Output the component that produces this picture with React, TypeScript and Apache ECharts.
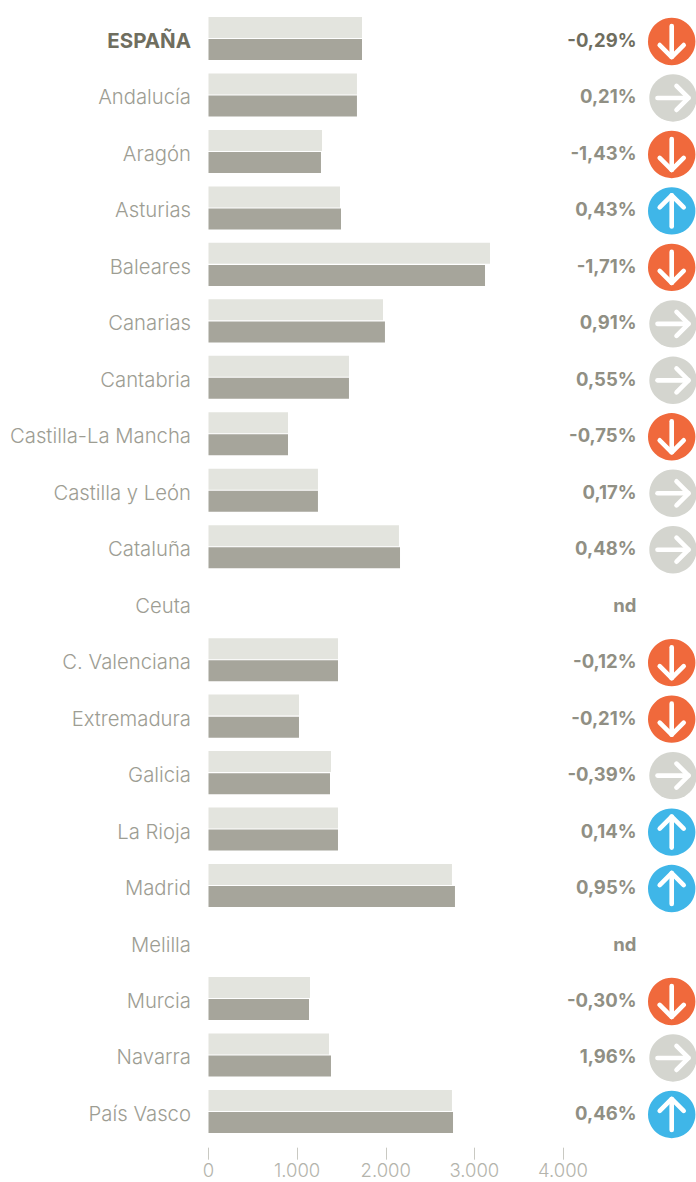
import React, { useEffect, useRef } from "react";
import * as echarts from "echarts";

const categories = ["ESPAÑA","Andalucía","Aragón","Asturias","Baleares","Canarias","Cantabria","Castilla-La Mancha","Castilla y León","Cataluña","Ceuta","C. Valenciana","Extremadura","Galicia","La Rioja","Madrid","Melilla","Murcia","Navarra","País Vasco"];
const previousValues = [1732,1675,1281,1484,3176,1969,1585,897,1235,2149,null,1461,1021,1382,1461,2747,null,1145,1360,2747];
const currentValues = [1732,1675,1269,1495,3120,1991,1585,897,1235,2161,null,1461,1021,1371,1461,2781,null,1134,1382,2759];
const changeLabels = ["-0,29%","0,21%","-1,43%","0,43%","-1,71%","0,91%","0,55%","-0,75%","0,17%","0,48%","nd","-0,12%","-0,21%","-0,39%","0,14%","0,95%","nd","-0,30%","1,96%","0,46%"];
const trends = ["down","flat","down","up","down","flat","flat","down","flat","flat",null,"down","down","flat","up","up",null,"down","flat","up"];
const axisTicks = [0,1000,2000,3000,4000];

const FONT = "Inter";
const trendColor: Record<string,string> = { down: "#f0693c", flat: "#d4d5cf", up: "#3fb6e8" };

function arrow(trend: string, cx: number, cy: number) {
  const L = 15.5, H = 12;
  let shaft: number[][], head: number[][];
  if (trend === "down") {
    shaft = [[cx, cy - L],[cx, cy + L]];
    head = [[cx - H, cy + L - H],[cx, cy + L],[cx + H, cy + L - H]];
  } else if (trend === "up") {
    shaft = [[cx, cy + L],[cx, cy - L]];
    head = [[cx - H, cy - L + H],[cx, cy - L],[cx + H, cy - L + H]];
  } else {
    shaft = [[cx - L, cy],[cx + L, cy]];
    head = [[cx + L - H, cy - H],[cx + L, cy],[cx + L - H, cy + H]];
  }
  const st = { stroke: "#fff", lineWidth: 4.6, lineCap: "round", lineJoin: "round", fill: "none" };
  return [
    { type: "polyline", shape: { points: shaft }, style: st },
    { type: "polyline", shape: { points: head }, style: st },
  ];
}

export default function App() {
  const ref = useRef<HTMLDivElement>(null);
  useEffect(() => {
    const chart = echarts.init(ref.current!, null, { renderer: "svg" });
    chart.setOption({
      animation: false,
      backgroundColor: "#fff",
      grid: { left: 208.5, width: 354.5, top: 10.27, height: 1129.4, outerBoundsMode: "none" },
      xAxis: {
        type: "value", min: 0, max: 4000, interval: 1000, offset: 8,
        axisLine: { show: false },
        axisTick: { show: true, length: 12, lineStyle: { color: "#c9c9c2", width: 1 }, customValues: axisTicks },
        splitLine: { show: false },
        axisLabel: {
          margin: 16, color: "#b4b4ac", fontFamily: FONT, fontWeight: 300, fontSize: 18.5, lineHeight: 12,
          customValues: axisTicks,
          formatter: (v: number) => (v === 0 ? "0" : `${v / 1000}.000`),
        },
      },
      yAxis: {
        type: "category", inverse: true, data: categories,
        axisLine: { show: false }, axisTick: { show: false },
        axisLabel: {
          margin: 17.5, fontFamily: FONT, fontWeight: 300, fontSize: 20.3, color: "#9d9d93",
          padding: [4, 0, 0, 0],
          formatter: (v: string) => (v === "ESPAÑA" ? `{b|${v}}` : v),
          rich: { b: { fontFamily: FONT, fontWeight: 700, fontSize: 20.5, color: "#6f6e5f" } },
        },
      },
      series: [
        { type: "bar", name: "prev", data: previousValues, barWidth: 21, barGap: "5%", itemStyle: { color: "#e3e4de" } },
        { type: "bar", name: "curr", data: currentValues, barWidth: 21, barGap: "5%", itemStyle: { color: "#a6a59b" } },
        {
          type: "custom", name: "change", silent: true,
          data: categories.map((_, i) => [0, i]),
          encode: { x: 0, y: 1 },
          renderItem: (params: any, api: any) => {
            const i = params.dataIndex;
            const y = api.coord([0, i])[1];
            const right = params.coordSys.x + params.coordSys.width;
            const children: any[] = [{
              type: "text",
              style: {
                text: changeLabels[i], x: right + 73.5, y: y + 1.5, align: "right", verticalAlign: "middle",
                fontFamily: FONT, fontWeight: 700, fontSize: 18.5,
                fill: i === 0 ? "#6f6e5f" : "#908f84",
              },
            }];
            const t = trends[i];
            if (t) {
              const cx = right + (t === "flat" ? 110 : 108.7);
              const cy = y + 3;
              children.push({ type: "circle", shape: { cx, cy, r: 23.7 }, style: { fill: trendColor[t] } });
              children.push(...arrow(t, cx, cy));
            }
            return { type: "group", children };
          },
        },
      ],
    });
    return () => chart.dispose();
  }, []);
  return <div ref={ref} style={{ position: "absolute", left: 0, top: 0, width: 696, height: 1182 }} />;
}
